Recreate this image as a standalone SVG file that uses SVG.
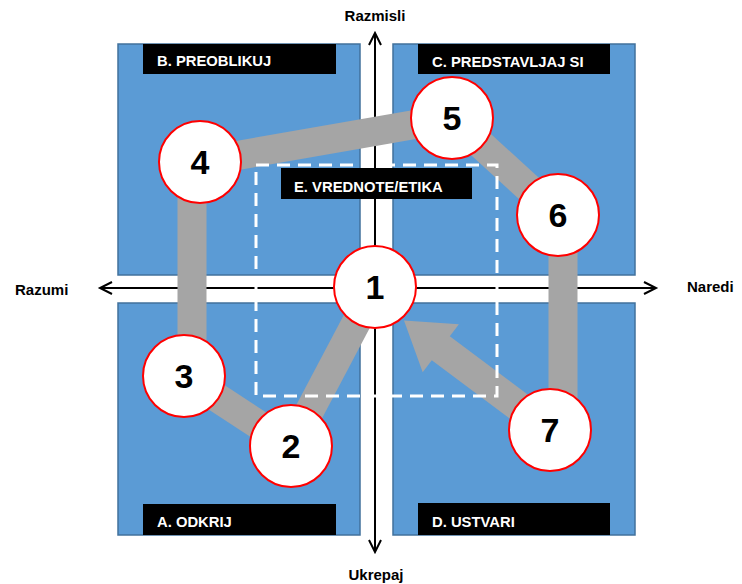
<svg xmlns="http://www.w3.org/2000/svg" width="742" height="584" viewBox="0 0 742 584">
<style>
.quad{fill:#5B9BD5;stroke:#41719C;stroke-width:1.5}
.bar{fill:#000}
.bt{font-family:"Liberation Sans",Arial,sans-serif;font-weight:bold;font-size:14.8px;fill:#fff}
.ax{font-family:"Liberation Sans",Arial,sans-serif;font-weight:bold;font-size:15px;fill:#000}
.axis{stroke:#000;stroke-width:2;fill:none}
.conn{stroke:#A5A5A5;stroke-width:29;fill:none}
.node circle{fill:#fff;stroke:#FF0000;stroke-width:2}
.num{font-family:"Liberation Sans",Arial,sans-serif;font-weight:bold;font-size:34px;fill:#000;text-anchor:middle}
.dash{fill:none;stroke:#fff;stroke-width:3;stroke-dasharray:13 8}
</style>
<rect width="742" height="584" fill="#fff"/>
<g id="quadrants">
<rect id="quadA" class="quad" x="118" y="303" width="242" height="232"/>
<rect id="quadB" class="quad" x="118" y="44" width="242" height="231"/>
<rect id="quadC" class="quad" x="393" y="44" width="242" height="231"/>
<rect id="quadD" class="quad" x="393" y="303" width="242" height="232"/>
</g>
<g id="axes">
<path class="axis" d="M375,33 V552 M100,288 H656"/>
<path class="axis" d="M369,45 L375,33 L381,45 M369,540 L375,552 L381,540 M112,282 L100,288 L112,294 M644,282 L656,288 L644,294"/>
</g>
<g id="axis-labels">
<text class="ax" x="375" y="21" text-anchor="middle">Razmisli</text>
<text class="ax" x="376" y="580" text-anchor="middle">Ukrepaj</text>
<text class="ax" x="15" y="295">Razumi</text>
<text class="ax" x="687" y="292">Naredi</text>
</g>
<g id="connectors">
<line class="conn" x1="375" y1="287" x2="291" y2="446"/>
<line class="conn" x1="291" y1="446" x2="184" y2="376"/>
<line class="conn" x1="192" y1="376" x2="192" y2="162"/>
<line class="conn" x1="200" y1="162" x2="452" y2="118"/>
<line class="conn" x1="452" y1="118" x2="558" y2="215"/>
<line class="conn" x1="563" y1="215" x2="563" y2="430"/>
<polygon fill="#A5A5A5" points="404,320.5 458.9,324.2 449.8,336.2 559,418 541,442 431.8,360.2 422.7,372.2"/>
</g>
<g id="nodeE">
<rect class="dash" x="256" y="165" width="241" height="231"/>
<rect class="bar" x="281" y="168" width="191" height="31"/>
<text class="bt" x="294" y="192">E. VREDNOTE/ETIKA</text>
</g>
<g id="labelB"><rect class="bar" x="143" y="44" width="193" height="30"/><text class="bt" x="157" y="66">B. PREOBLIKUJ</text></g>
<g id="labelC"><rect class="bar" x="418" y="44" width="192" height="30"/><text class="bt" x="432" y="67">C. PREDSTAVLJAJ SI</text></g>
<g id="labelA"><rect class="bar" x="143" y="504" width="193" height="31"/><text class="bt" x="157" y="527">A. ODKRIJ</text></g>
<g id="labelD"><rect class="bar" x="418" y="503" width="192" height="32"/><text class="bt" x="432" y="527">D. USTVARI</text></g>
<g id="node1" class="node"><circle cx="375" cy="287" r="41"/><text class="num" x="375" y="299">1</text></g>
<g id="node2" class="node"><circle cx="291" cy="446" r="41"/><text class="num" x="291" y="458">2</text></g>
<g id="node3" class="node"><circle cx="184" cy="376" r="41"/><text class="num" x="184" y="388">3</text></g>
<g id="node4" class="node"><circle cx="200" cy="162" r="41"/><text class="num" x="200" y="174">4</text></g>
<g id="node5" class="node"><circle cx="452" cy="118" r="41"/><text class="num" x="452" y="130">5</text></g>
<g id="node6" class="node"><circle cx="558" cy="215" r="41"/><text class="num" x="558" y="227">6</text></g>
<g id="node7" class="node"><circle cx="550" cy="430" r="41"/><text class="num" x="550" y="442">7</text></g>
</svg>
